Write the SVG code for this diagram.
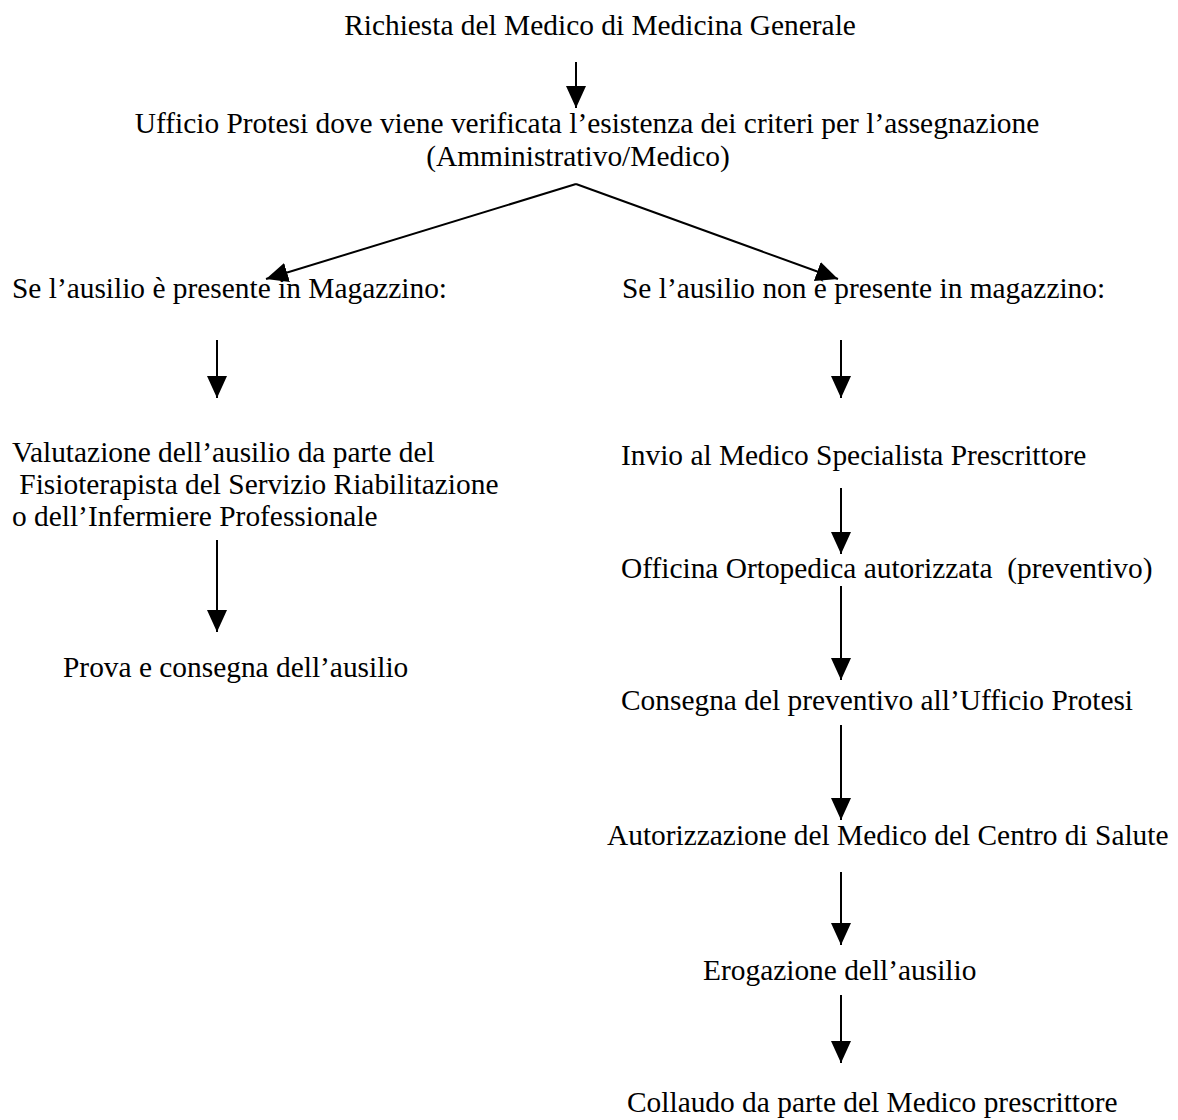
<svg xmlns="http://www.w3.org/2000/svg" width="1178" height="1120" viewBox="0 0 1178 1120">
<style>
text{font-family:"Liberation Serif","Times New Roman",serif;font-size:29.4px;fill:#000}
.c{text-anchor:middle}
.e{stroke:#000;stroke-width:2;fill:none}
</style>
<defs>
<marker id="ah" markerUnits="userSpaceOnUse" markerWidth="22" markerHeight="20" refX="22" refY="10" orient="auto">
<path d="M0,0 L22,10 L0,20 z" fill="#000"/>
</marker>
</defs>
<rect width="1178" height="1120" fill="#fff"/>
<g id="connectors">
<line class="e" x1="576" y1="62" x2="576" y2="108" marker-end="url(#ah)"/>
<line class="e" x1="576" y1="184" x2="266" y2="279" marker-end="url(#ah)"/>
<line class="e" x1="576" y1="184" x2="838" y2="279" marker-end="url(#ah)"/>
<line class="e" x1="217" y1="340" x2="217" y2="398" marker-end="url(#ah)"/>
<line class="e" x1="217" y1="540" x2="217" y2="632" marker-end="url(#ah)"/>
<line class="e" x1="841" y1="340" x2="841" y2="398" marker-end="url(#ah)"/>
<line class="e" x1="841" y1="488" x2="841" y2="554" marker-end="url(#ah)"/>
<line class="e" x1="841" y1="586" x2="841" y2="680" marker-end="url(#ah)"/>
<line class="e" x1="841" y1="725" x2="841" y2="820" marker-end="url(#ah)"/>
<line class="e" x1="841" y1="872" x2="841" y2="945" marker-end="url(#ah)"/>
<line class="e" x1="841" y1="995" x2="841" y2="1063" marker-end="url(#ah)"/>
</g>
<g id="n1"><text class="c" x="600" y="35">Richiesta del Medico di Medicina Generale</text></g>
<g id="n2"><text class="c" x="587" y="133">Ufficio Protesi dove viene verificata l’esistenza dei criteri per l’assegnazione</text><text class="c" x="578" y="166">(Amministrativo/Medico)</text></g>
<g id="n3"><text x="12" y="298">Se l’ausilio è presente in Magazzino:</text></g>
<g id="n4"><text x="622" y="298">Se l’ausilio non è presente in magazzino:</text></g>
<g id="n5"><text x="12" y="462">Valutazione dell’ausilio da parte del</text><text x="12" y="494" xml:space="preserve"> Fisioterapista del Servizio Riabilitazione</text><text x="12" y="526">o dell’Infermiere Professionale</text></g>
<g id="n6"><text x="63" y="677">Prova e consegna dell’ausilio</text></g>
<g id="n7"><text x="621" y="465">Invio al Medico Specialista Prescrittore</text></g>
<g id="n8"><text x="621" y="578" xml:space="preserve">Officina Ortopedica autorizzata  (preventivo)</text></g>
<g id="n9"><text x="621" y="710">Consegna del preventivo all’Ufficio Protesi</text></g>
<g id="n10"><text x="607" y="845">Autorizzazione del Medico del Centro di Salute</text></g>
<g id="n11"><text x="703" y="980">Erogazione dell’ausilio</text></g>
<g id="n12"><text x="627" y="1112">Collaudo da parte del Medico prescrittore</text></g>
</svg>
